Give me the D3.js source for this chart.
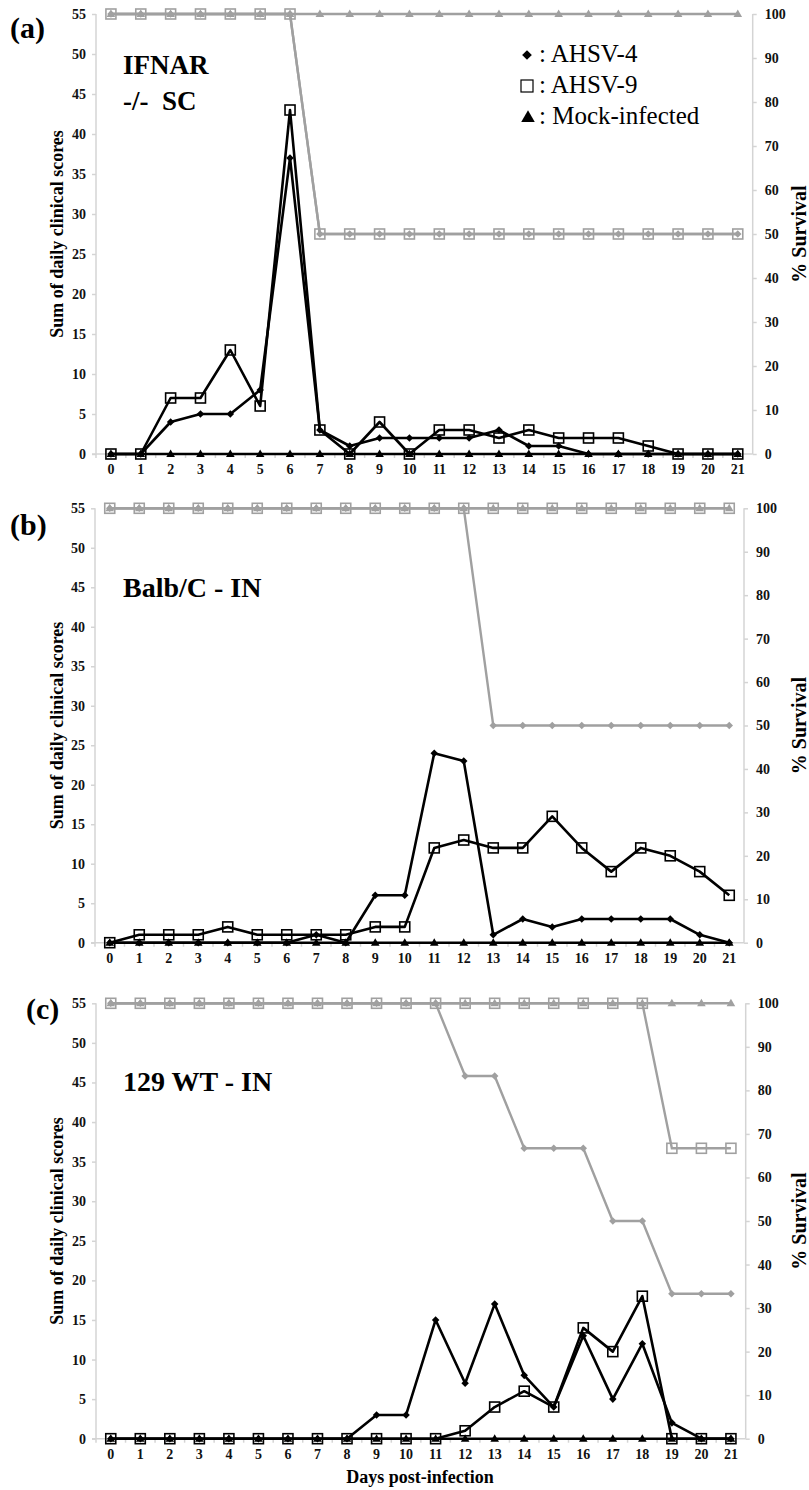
<!DOCTYPE html>
<html><head><meta charset="utf-8">
<script src="https://cdn.jsdelivr.net/npm/d3@7"></script>
<style>body{margin:0;background:#fff;} svg{display:block;}</style>
</head><body>
<svg id="chart" width="809" height="1490"></svg>
<script>
// ---------- DATA ----------
const days = [0,1,2,3,4,5,6,7,8,9,10,11,12,13,14,15,16,17,18,19,20,21];
const scoreTicks = [0,5,10,15,20,25,30,35,40,45,50,55];
const survTicks = [0,10,20,30,40,50,60,70,80,90,100];
const panelLabels = ["(a)","(b)","(c)"];
const panelTitles = [["IFNAR","-/-  SC"],["Balb/C - IN"],["129 WT - IN"]];
const legendLabels = [": AHSV-4", ": AHSV-9", ": Mock-infected"];

// Panel (a) IFNAR -/- SC
const scoreA4 = [0,0,4,5,5,8,37,3,1,2,2,2,2,3,1,1,0,0,0,0,0,0];
const scoreA9 = [0,0,7,7,13,6,43,3,0,4,0,3,3,2,3,2,2,2,1,0,0,0];
const scoreAM = [0,0,0,0,0,0,0,0,0,0,0,0,0,0,0,0,0,0,0,0,0,0];
const survA4 = [100,100,100,100,100,100,100,50,50,50,50,50,50,50,50,50,50,50,50,50,50,50];
const survA9 = [100,100,100,100,100,100,100,50,50,50,50,50,50,50,50,50,50,50,50,50,50,50];
const survAM = [100,100,100,100,100,100,100,100,100,100,100,100,100,100,100,100,100,100,100,100,100,100];

// Panel (b) Balb/C - IN
const scoreB4 = [0,0,0,0,0,0,0,1,0,6,6,24,23,1,3,2,3,3,3,3,1,0];
const scoreB9 = [0,1,1,1,2,1,1,1,1,2,2,12,13,12,12,16,12,9,12,11,9,6];
const scoreBM = [0,0,0,0,0,0,0,0,0,0,0,0,0,0,0,0,0,0,0,0,0,0];
const survB4 = [100,100,100,100,100,100,100,100,100,100,100,100,100,50,50,50,50,50,50,50,50,50];
const survB9 = [100,100,100,100,100,100,100,100,100,100,100,100,100,100,100,100,100,100,100,100,100,100];
const survBM = [100,100,100,100,100,100,100,100,100,100,100,100,100,100,100,100,100,100,100,100,100,100];

// Panel (c) 129 WT - IN
const scoreC4 = [0,0,0,0,0,0,0,0,0,3,3,15,7,17,8,4,13,5,12,2,0,0];
const scoreC9 = [0,0,0,0,0,0,0,0,0,0,0,0,1,4,6,4,14,11,18,0,0,0];
const scoreCM = [0,0,0,0,0,0,0,0,0,0,0,0,0,0,0,0,0,0,0,0,0,0];
const survC4 = [100,100,100,100,100,100,100,100,100,100,100,100,83.3,83.3,66.7,66.7,66.7,50,50,33.3,33.3,33.3];
const survC9 = [100,100,100,100,100,100,100,100,100,100,100,100,100,100,100,100,100,100,100,66.7,66.7,66.7];
const survCM = [100,100,100,100,100,100,100,100,100,100,100,100,100,100,100,100,100,100,100,100,100,100];

// ---------- LAYOUT ----------
const panels = [
  {left:96, right:752.7, top:14, bottom:454, s4:scoreA4, s9:scoreA9, sM:scoreAM, v4:survA4, v9:survA9, vM:survAM,
   label:{x:10,y:38}, titleY:[74,110], legend:true},
  {left:95, right:744, top:508.3, bottom:942.7, s4:scoreB4, s9:scoreB9, sM:scoreBM, v4:survB4, v9:survB9, vM:survBM,
   label:{x:10,y:535}, titleY:[597]},
  {left:96, right:745.7, top:1003.3, bottom:1438.7, s4:scoreC4, s9:scoreC9, sM:scoreCM, v4:survC4, v9:survC9, vM:survCM,
   label:{x:26,y:1019}, titleY:[1091], xTitle:true}
];

const svg = d3.select("#chart");
const SERIF = "'Liberation Serif','Times New Roman',serif";
const GRAY = "#a0a0a0", AXIS = "#d4d4d4";

function marker(g, type, x, y, color, fill) {
  if (type === "square") {
    g.append("rect").attr("x", x-5).attr("y", y-5).attr("width",10).attr("height",10)
      .attr("fill", fill || "none").attr("stroke", color).attr("stroke-width",1.6);
  } else if (type === "diamond") {
    g.append("path").attr("transform",`translate(${x},${y})`)
      .attr("d", d3.symbol(d3.symbolDiamond2, 36)()).attr("fill", color);
  } else {
    g.append("path").attr("transform",`translate(${x},${y+0.5})`)
      .attr("d", d3.symbol(d3.symbolTriangle, 32)()).attr("fill", color);
  }
}

panels.forEach((p, i) => {
  const g = svg.append("g");
  const x = d3.scaleBand().domain(days).range([p.left, p.right]);
  const cx = d => x(d) + x.bandwidth()/2;
  const yS = d3.scaleLinear().domain([0,55]).range([p.bottom, p.top]);
  const yV = d3.scaleLinear().domain([0,100]).range([p.bottom, p.top]);

  // left axis
  const la = g.append("g").attr("transform",`translate(${p.left},0)`)
    .call(d3.axisLeft(yS).tickValues(scoreTicks).tickSize(4).tickPadding(6));
  la.select(".domain").attr("stroke", AXIS).attr("stroke-width",1.5).attr("d",`M0,${p.top}V${p.bottom}`);
  la.selectAll(".tick line").attr("stroke", AXIS).attr("stroke-width",1.5);
  la.selectAll("text").attr("font-family",SERIF).attr("font-weight","bold").attr("font-size",14).attr("fill","#111");

  // right axis
  const ra = g.append("g").attr("transform",`translate(${p.right},0)`)
    .call(d3.axisRight(yV).tickValues(survTicks).tickSize(4).tickPadding(8));
  ra.select(".domain").attr("stroke", AXIS).attr("stroke-width",1.5).attr("d",`M0,${p.top}V${p.bottom}`);
  ra.selectAll(".tick line").attr("stroke", AXIS).attr("stroke-width",1.5);
  ra.selectAll("text").attr("font-family",SERIF).attr("font-weight","bold").attr("font-size",14).attr("fill","#111");

  // x axis
  const xa = g.append("g").attr("transform",`translate(0,${p.bottom})`)
    .call(d3.axisBottom(x).tickSize(0).tickPadding(10));
  xa.select(".domain").attr("stroke", AXIS).attr("stroke-width",1.5).attr("d",`M${p.left-4},0H${p.right}`);
  xa.selectAll("text").attr("font-family",SERIF).attr("font-weight","bold").attr("font-size",14).attr("fill","#111");
  // category boundary ticks
  g.append("g").selectAll("line").data(days).join("line")
    .attr("x1", d => x(d)).attr("x2", d => x(d)).attr("y1", p.bottom).attr("y2", p.bottom+4)
    .attr("stroke", AXIS).attr("stroke-width",1.5);

  // survival (gray) lines
  const lineV = d3.line().x((d,j) => cx(days[j])).y(d => yV(d));
  [[p.vM,"triangle"],[p.v9,"square"],[p.v4,"diamond"]].forEach(([arr,type]) => {
    g.append("path").attr("d", lineV(arr)).attr("fill","none").attr("stroke",GRAY).attr("stroke-width",2.4);
    arr.forEach((v,j) => marker(g, type, cx(days[j]), yV(v), GRAY));
  });

  // score (black) lines
  const lineS = d3.line().x((d,j) => cx(days[j])).y(d => yS(d));
  [[p.sM,"triangle"],[p.s4,"diamond"],[p.s9,"square"]].forEach(([arr,type]) => {
    g.append("path").attr("d", lineS(arr)).attr("fill","none").attr("stroke","#000").attr("stroke-width",2.6)
      .attr("stroke-linejoin","round");
    arr.forEach((v,j) => marker(g, type, cx(days[j]), yS(v), "#000"));
  });

  // panel label
  g.append("text").attr("x", p.label.x).attr("y", p.label.y).text(panelLabels[i])
    .attr("font-family",SERIF).attr("font-weight","bold").attr("font-size",30).attr("fill","#000");
  // title
  panelTitles[i].forEach((t,k) => {
    g.append("text").attr("x",123).attr("y",p.titleY[k]).text(t)
      .style("white-space","pre")
      .attr("font-family",SERIF).attr("font-weight","bold").attr("font-size", i===0?27:28).attr("fill","#000");
  });
  // axis titles
  const midY = (p.top + p.bottom)/2;
  g.append("text").attr("transform",`translate(63,${midY}) rotate(-90)`).attr("text-anchor","middle")
    .text("Sum of daily clinical scores").attr("font-family",SERIF).attr("font-weight","bold").attr("font-size",18);
  g.append("text").attr("transform",`translate(806,${midY}) rotate(-90)`).attr("text-anchor","middle")
    .text("% Survival").attr("font-family",SERIF).attr("font-weight","bold").attr("font-size",20);

  if (p.xTitle) {
    g.append("text").attr("x", 420).attr("y", 1483).attr("text-anchor","middle")
      .text("Days post-infection").attr("font-family",SERIF).attr("font-weight","bold").attr("font-size",18);
  }

  if (p.legend) {
    const types = ["diamond","square","triangle"];
    const ly = [62, 93, 124];
    types.forEach((t,k) => {
      const lg = g.append("g");
      if (t === "diamond") lg.append("path").attr("transform",`translate(527,${ly[k]-7})`).attr("d", d3.symbol(d3.symbolDiamond2, 60)()).attr("fill","#000");
      else if (t === "square") lg.append("rect").attr("x",521).attr("y",ly[k]-13).attr("width",12).attr("height",12).attr("fill","none").attr("stroke","#000").attr("stroke-width",1.2);
      else lg.append("path").attr("transform",`translate(528,${ly[k]-6})`).attr("d", d3.symbol(d3.symbolTriangle, 80)()).attr("fill","#000");
      lg.append("text").attr("x",539).attr("y",ly[k]).text(legendLabels[k])
        .attr("font-family",SERIF).attr("font-size",25).attr("fill","#000");
    });
  }
});
</script>
</body></html>
